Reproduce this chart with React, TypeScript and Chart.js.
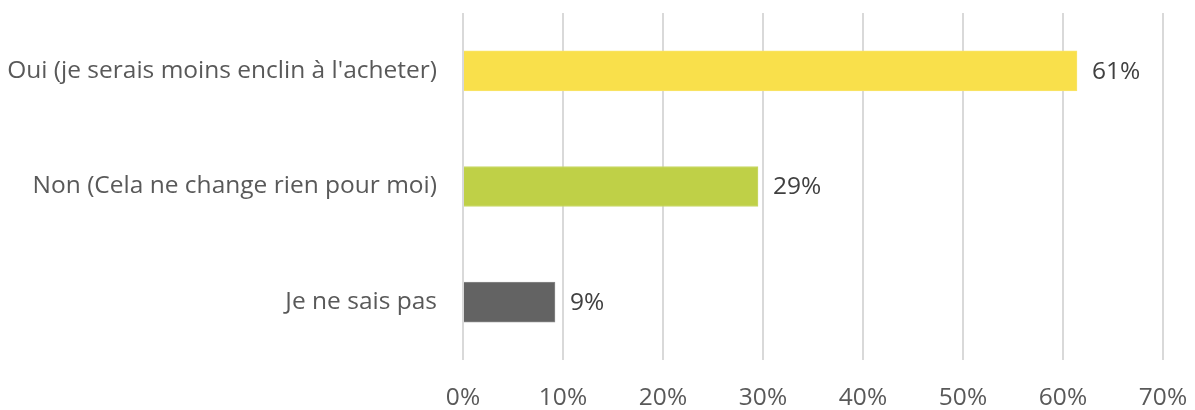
import React, { useEffect, useRef } from "react";
import { Chart, registerables } from "chart.js";

Chart.register(...registerables);

const categories = [
  "Oui (je serais moins enclin à l'acheter)",
  "Non (Cela ne change rien pour moi)",
  "Je ne sais pas",
];
const values = [0.614, 0.295, 0.092];
const valueLabels = ["61%", "29%", "9%"];
const barColors = ["#F9E04B", "#BFD047", "#636363"];
const borderColors = ["#F9E56A", "#C9D86A", "#8A8A8A"];

const FONT = "'Open Sans', sans-serif";
const FONT_SIZE = 24.5;

const valueLabelPlugin = {
  id: "valueLabels",
  afterDatasetsDraw(chart: any) {
    const ctx = chart.ctx;
    const meta = chart.getDatasetMeta(0);
    ctx.save();
    ctx.font = `${FONT_SIZE}px ${FONT}`;
    ctx.fillStyle = "#404040";
    ctx.textAlign = "left";
    ctx.textBaseline = "middle";
    meta.data.forEach((bar: any, i: number) => {
      ctx.fillText(valueLabels[i], bar.x + 15, bar.y + 1);
    });
    ctx.restore();
  },
};

export default function App() {
  const ref = useRef<HTMLCanvasElement | null>(null);
  useEffect(() => {
    if (!ref.current) return;
    const chart = new Chart(ref.current, {
      type: "bar",
      data: {
        labels: categories,
        datasets: [
          {
            data: values,
            backgroundColor: barColors,
            borderColor: borderColors,
            borderWidth: 1,
            barThickness: 40,
          },
        ],
      },
      options: {
        indexAxis: "y",
        animation: false,
        responsive: true,
        maintainAspectRatio: false,
        layout: { padding: { top: 13, right: 32, left: 0, bottom: 0 } },
        plugins: { legend: { display: false }, tooltip: { enabled: false } },
        scales: {
          x: {
            min: 0,
            max: 0.7,
            ticks: {
              stepSize: 0.1,
              padding: 23,
              color: "#595959",
              font: { family: FONT, size: FONT_SIZE },
              callback: (v: any) => `${Math.round(Number(v) * 100)}%`,
            },
            grid: { color: "#D9D9D9", lineWidth: 2, drawTicks: false },
            border: { display: false },
            afterFit: (s: any) => {
              s.height = 50;
              s.paddingLeft = 0;
              s.paddingRight = 0;
            },
          },
          y: {
            ticks: {
              padding: 26,
              color: "#595959",
              font: { family: FONT, size: FONT_SIZE },
            },
            grid: { display: false, drawTicks: false },
            border: { display: false },
            afterFit: (s: any) => {
              s.width = 463;
              s.paddingTop = 0;
              s.paddingBottom = 0;
            },
          },
        },
      },
      plugins: [valueLabelPlugin],
    });
    return () => chart.destroy();
  }, []);
  return (
    <div style={{ position: "fixed", left: 0, top: 0, width: 1195, height: 410, background: "#fff" }}>
      <canvas ref={ref} />
    </div>
  );
}
